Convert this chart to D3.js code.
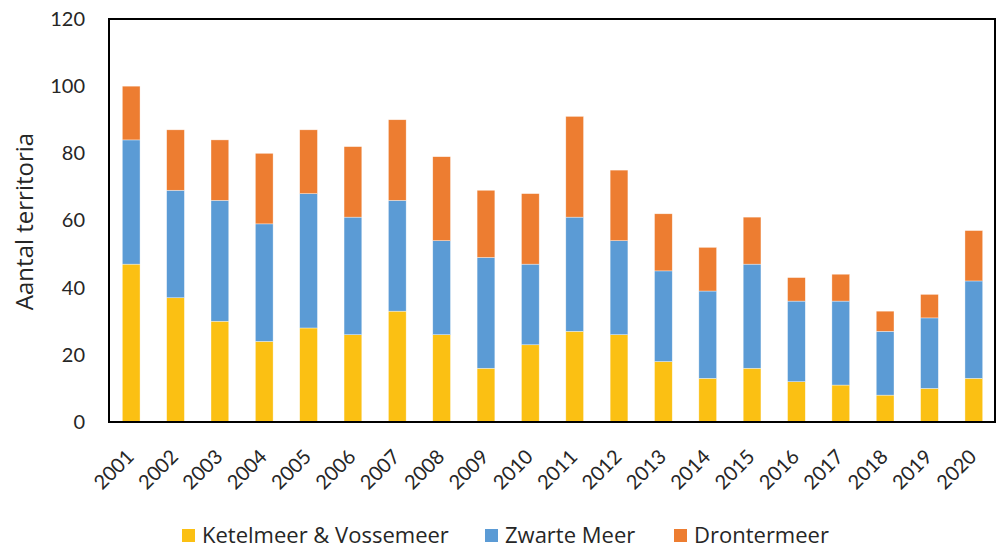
<!DOCTYPE html>
<html>
<head>
<meta charset="utf-8">
<script src="https://cdn.jsdelivr.net/npm/d3@7"></script>
<style>
  body { margin: 0; background: #fff; }
  text { font-family: Lato, "Open Sans", sans-serif; fill: #262626; }
</style>
</head>
<body>
<svg id="chart" width="997" height="549"></svg>
<script>
// data
var years = ["2001","2002","2003","2004","2005","2006","2007","2008","2009","2010",
             "2011","2012","2013","2014","2015","2016","2017","2018","2019","2020"];
var ketelmeer   = [47, 37, 30, 24, 28, 26, 33, 26, 16, 23, 27, 26, 18, 13, 16, 12, 11,  8, 10, 13];
var zwarteMeer  = [37, 32, 36, 35, 40, 35, 33, 28, 33, 24, 34, 28, 27, 26, 31, 24, 25, 19, 21, 29];
var drontermeer = [16, 18, 18, 21, 19, 21, 24, 25, 20, 21, 30, 21, 17, 13, 14,  7,  8,  6,  7, 15];
var seriesNames = ["Ketelmeer & Vossemeer", "Zwarte Meer", "Drontermeer"];
var yTicks = [0, 20, 40, 60, 80, 100, 120];

var colors = ["#FBC013", "#5B9BD5", "#ED7D31"];

var svg = d3.select("#chart");
var margin = {left: 109, right: 1, top: 19, bottom: 127};
var W = 997, H = 549;

var table = years.map(function(y, i) {
  return {year: y, k: ketelmeer[i], z: zwarteMeer[i], d: drontermeer[i]};
});
var stack = d3.stack().keys(["k", "z", "d"])(table);

var x = d3.scaleBand()
    .domain(years)
    .range([margin.left, W - margin.right])
    .paddingInner(0.6)
    .paddingOuter(0.3);

var y = d3.scaleLinear()
    .domain([0, 120])
    .range([H - margin.bottom, margin.top]);

// bars
svg.append("g").selectAll("g")
  .data(stack)
  .join("g")
    .attr("fill", function(d, i) { return colors[i]; })
  .selectAll("rect")
  .data(function(d) { return d; })
  .join("rect")
    .attr("x", function(d) { return x(d.data.year); })
    .attr("y", function(d) { return y(d[1]); })
    .attr("width", x.bandwidth())
    .attr("height", function(d) { return y(d[0]) - y(d[1]); })
    .attr("stroke", "#fff")
    .attr("stroke-opacity", 0.6)
    .attr("stroke-width", 0.6);

// y axis labels (no ticks)
var yAxis = svg.append("g")
    .attr("transform", "translate(" + margin.left + ",0)")
    .call(d3.axisLeft(y).tickValues(yTicks).tickSize(0).tickPadding(24));
yAxis.select(".domain").remove();
yAxis.selectAll("text")
    .style("font-size", "20px")
    .attr("fill", "#262626");

// x axis labels rotated
var xAxis = svg.append("g")
    .attr("transform", "translate(0," + (H - margin.bottom) + ")")
    .call(d3.axisBottom(x).tickSize(0));
xAxis.select(".domain").remove();
xAxis.selectAll("text")
    .style("font-size", "20px")
    .attr("fill", "#262626")
    .attr("text-anchor", "end")
    .attr("y", 0)
    .attr("dy", 0)
    .attr("transform", "translate(4,36) rotate(-45)");

// plot frame
svg.append("rect")
    .attr("x", margin.left)
    .attr("y", margin.top)
    .attr("width", W - margin.right - margin.left - 1)
    .attr("height", H - margin.bottom - margin.top)
    .attr("fill", "none")
    .attr("stroke", "#000")
    .attr("stroke-width", 2);

// y title
svg.append("text")
    .attr("transform", "translate(33," + ((margin.top + H - margin.bottom) / 2 + 1) + ") rotate(-90)")
    .attr("text-anchor", "middle")
    .style("font-family", "'Open Sans', sans-serif")
    .style("font-size", "24px")
    .text("Aantal territoria");

// legend
var legendX = [182, 485, 674];
var legend = svg.append("g").selectAll("g")
  .data(seriesNames)
  .join("g")
    .attr("transform", function(d, i) { return "translate(" + legendX[i] + ",535)"; });
legend.append("rect")
    .attr("x", 0).attr("y", -6)
    .attr("width", 13).attr("height", 13)
    .attr("fill", function(d, i) { return colors[i]; });
legend.append("text")
    .attr("x", 20)
    .attr("dy", "0.35em")
    .style("font-family", "'Open Sans', sans-serif")
    .style("font-size", "22px")
    .text(function(d) { return d; });
</script>
</body>
</html>
